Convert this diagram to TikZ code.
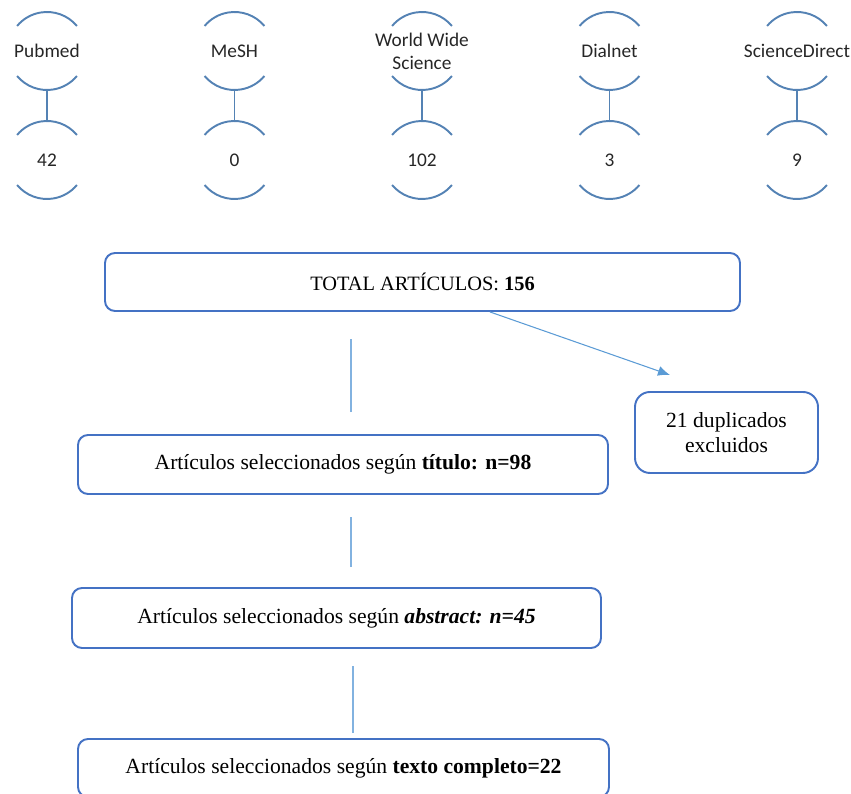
\documentclass[tikz,border=0pt]{standalone}
\usepackage{fontspec}
\setmainfont{Liberation Serif}
\newfontfamily\calibri{Carlito}
\usetikzlibrary{arrows.meta}

\definecolor{boxblue}{RGB}{68,114,196}
\definecolor{arcblue}{RGB}{84,130,180}
\definecolor{lineblue}{RGB}{130,178,224}
\definecolor{arrowblue}{RGB}{91,155,213}

\begin{document}
\begin{tikzpicture}[
  >={Latex[length=2.4mm,width=2mm]},
  source/.style={
  	inner sep=0pt,
  	align=center,
  	text=black!85,
  	font=\calibri\fontsize{11}{13}\selectfont
  },
  sourcearc/.style={
  	arcblue,
  	line width=1.1pt
  },
  stage/.style={
  	draw=boxblue,
  	line width=1.1pt,
  	rounded corners=0.2cm,
  	minimum width=10.6cm,
  	minimum height=1.18cm,
  	align=center,
  	font=\fontsize{12.3}{14.2}\selectfont
  },
  link/.style={
  	lineblue,
  	line width=0.6pt
  }
  ]
  \useasboundingbox (0,0) rectangle (17.02,15.88);

  \foreach \x/\l/\n/\c in {0.94/a/Pubmed/42,4.69/b/MeSH/0,8.44/c/{World Wide\\Science}/102,12.19/d/Dialnet/3,15.94/e/ScienceDirect/9} {
  \node[source] (s\l) at (\x,14.86) {\n};
  \node[source] (n\l) at (\x,12.68) {\c};
  \draw[sourcearc] (s\l.center) ++(40:0.78) arc (40:140:0.78);
  \draw[sourcearc] (s\l.center) ++(220:0.78) arc (220:320:0.78);
  \draw[sourcearc] (n\l.center) ++(40:0.78) arc (40:140:0.78);
  \draw[sourcearc] (n\l.center) ++(220:0.78) arc (220:320:0.78);
  \draw[sourcearc] ([yshift=-0.78cm]s\l.center) -- ([yshift=0.78cm]n\l.center);
  }

  \node[stage,minimum width=12.7cm,minimum height=1.16cm,font=\fontsize{11.6}{14}\selectfont] (total) at (8.45,10.24) {TOTAL ARTÍCULOS: \textbf{156}};
  \node[stage,minimum width=3.66cm,minimum height=1.62cm,rounded corners=0.3cm] (dup) at (14.53,7.23) {21 duplicados\\excluidos};
  \node[stage] (title) at (6.86,6.59) {Artículos seleccionados según \textbf{título: n=98}};
  \node[stage,minimum width=10.58cm,minimum height=1.2cm] (abstract) at (6.73,3.52) {Artículos seleccionados según \textbf{\textit{abstract: n=45}}};
  \node[stage,minimum width=10.62cm,minimum height=1.16cm] (full) at (6.87,0.52) {Artículos seleccionados según \textbf{texto completo=22}};

  \coordinate (dupin) at (13.4,8.38);
  \draw[->,arrowblue,line width=0.6pt] ([xshift=1.35cm]total.south) -- (dupin);

  \draw[link] ([xshift=0.16cm,yshift=0.44cm]title.north) -- ++(0,1.46);
  \draw[link] ([xshift=0.29cm,yshift=0.4cm]abstract.north) -- ++(0,1.0);
  \draw[link] ([xshift=0.19cm,yshift=0.1cm]full.north) -- ++(0,1.34);

\end{tikzpicture}
\end{document}
